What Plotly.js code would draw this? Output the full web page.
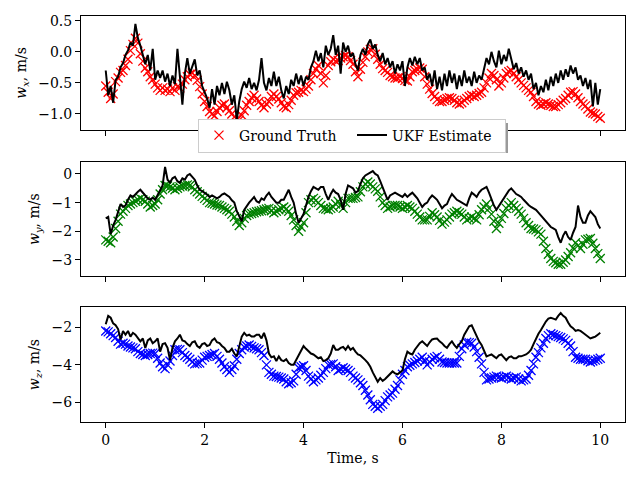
<!DOCTYPE html>
<html>
<head>
<meta charset="utf-8">
<script src="https://cdn.plot.ly/plotly-3.0.1.min.js"></script>
<style>
  body { margin: 0; }
  #grafik { width: 640px; height: 480px; }
</style>
</head>
<body>
<div id="grafik"></div>
<script>
// sample step of the series, s
const dt = 0.05;

// w_x, m/s
const wxTruth = [
  -0.55, -0.65, -0.75, -0.68, -0.48, -0.42, -0.33, -0.30, -0.22, -0.12,
  0.02, 0.12, 0.22, 0.14, -0.03, -0.15, -0.26, -0.32, -0.40, -0.45,
  -0.52, -0.58, -0.62, -0.58, -0.62, -0.60, -0.64, -0.58, -0.62, -0.56,
  -0.58, -0.52, -0.45, -0.40, -0.36, -0.34, -0.38, -0.46, -0.56, -0.68,
  -0.80, -0.88, -0.96, -1.00, -1.03, -0.96, -0.90, -0.86, -0.84, -0.90,
  -0.95, -1.00, -1.05, -1.08, -1.10, -1.02, -0.95, -0.86, -0.80, -0.74,
  -0.70, -0.76, -0.80, -0.86, -0.90, -0.84, -0.80, -0.72, -0.68, -0.72,
  -0.76, -0.82, -0.88, -0.90, -0.85, -0.78, -0.70, -0.66, -0.65, -0.62,
  -0.64, -0.60, -0.55, -0.45, -0.35, -0.28, -0.22, -0.35, -0.50, -0.38,
  -0.22, -0.16, -0.12, -0.15, -0.14, -0.10, -0.08, -0.06, -0.08, -0.14,
  -0.20, -0.32, -0.40, -0.28, -0.17, -0.08, 0.00, 0.04, 0.05, -0.04,
  -0.12, -0.20, -0.27, -0.30, -0.33, -0.38, -0.40, -0.42, -0.42, -0.40,
  -0.43, -0.46, -0.47, -0.40, -0.32, -0.30, -0.28, -0.26, -0.28, -0.40,
  -0.52, -0.60, -0.67, -0.72, -0.77, -0.80, -0.80, -0.78, -0.75, -0.74,
  -0.75, -0.78, -0.82, -0.84, -0.82, -0.78, -0.75, -0.72, -0.70, -0.72,
  -0.70, -0.67, -0.65, -0.58, -0.50, -0.42, -0.35, -0.38, -0.45, -0.55,
  -0.50, -0.42, -0.35, -0.32, -0.30, -0.35, -0.40, -0.45, -0.50, -0.54,
  -0.58, -0.62, -0.65, -0.72, -0.80, -0.84, -0.86, -0.84, -0.82, -0.84,
  -0.86, -0.88, -0.88, -0.85, -0.82, -0.78, -0.75, -0.70, -0.65, -0.64,
  -0.68, -0.74, -0.80, -0.84, -0.87, -0.92, -0.97, -0.99, -1.00, -1.04,
  -1.07
];
const wxUkf = [
  -0.30, -0.70, -0.55, -0.82, -0.45, -0.40, -0.25, -0.18, -0.05, 0.02,
  0.15, 0.10, 0.45, 0.22, 0.10, -0.05, -0.20, -0.05, -0.30, 0.05,
  -0.45, -0.30, -0.42, -0.30, -0.48, -0.35, -0.55, -0.38, -0.52, 0.05,
  -0.42, -0.85, -0.35, -0.10, -0.35, -0.22, -0.12, -0.38, -0.30, -0.55,
  -0.65, -0.75, -0.90, -0.60, -0.85, -0.55, -0.70, -0.50, -0.68, -0.48,
  -0.62, -0.85, -0.70, -1.10, -0.80, -0.60, -0.48, -0.58, -0.42, -0.60,
  -0.50, -0.62, -0.45, -0.10, -0.50, -0.62, -0.42, -0.55, -0.32, -0.55,
  -0.40, -0.62, -0.75, -0.55, -0.68, -0.45, -0.55, -0.35, -0.52, -0.38,
  -0.55, -0.40, -0.45, -0.25, -0.15, 0.02, -0.15, -0.02, -0.25, 0.10,
  -0.05, 0.05, 0.27, -0.05, 0.10, -0.35, 0.15, 0.00, 0.10, -0.08,
  -0.02, -0.20, -0.30, -0.05, 0.05, -0.05, 0.12, 0.20, 0.05, 0.12,
  -0.05, -0.15, -0.02, -0.20, -0.10, -0.25, -0.15, -0.35, -0.20, -0.30,
  -0.15, -0.55, -0.25, -0.10, -0.22, -0.08, -0.20, -0.10, -0.30, -0.25,
  -0.45, -0.35, -0.55, -0.30, -0.60, -0.40, -0.62, -0.35, -0.55, -0.30,
  -0.50, -0.35, -0.60, -0.38, -0.55, -0.30, -0.50, -0.40, -0.55, -0.32,
  -0.50, -0.38, -0.45, -0.25, -0.10, -0.20, 0.00, -0.15, -0.25, 0.02,
  -0.20, -0.05, -0.15, 0.05, -0.12, -0.28, -0.18, -0.35, -0.25, -0.40,
  -0.30, -0.45, -0.35, -0.60, -0.50, -0.70, -0.55, -0.65, -0.45, -0.62,
  -0.40, -0.55, -0.35, -0.50, -0.30, -0.45, -0.28, -0.40, -0.22, -0.35,
  -0.25, -0.45, -0.38, -0.55, -0.42, -0.60, -0.45, -0.88, -0.50, -0.85,
  -0.60
];

// w_y, m/s
const wyTruth = [
  -2.30, -2.35, -2.40, -2.20, -1.90, -1.65, -1.40, -1.30, -1.20, -1.10,
  -1.05, -1.00, -0.95, -0.90, -0.85, -0.90, -0.95, -1.05, -1.15, -1.10,
  -1.05, -0.90, -0.70, -0.55, -0.40, -0.42, -0.45, -0.50, -0.55, -0.50,
  -0.45, -0.42, -0.40, -0.38, -0.40, -0.45, -0.55, -0.62, -0.70, -0.78,
  -0.85, -0.92, -1.00, -1.02, -1.05, -1.08, -1.10, -1.15, -1.20, -1.25,
  -1.30, -1.40, -1.50, -1.65, -1.80, -1.70, -1.55, -1.45, -1.40, -1.38,
  -1.35, -1.32, -1.30, -1.28, -1.25, -1.22, -1.20, -1.28, -1.35, -1.30,
  -1.25, -1.20, -1.15, -1.22, -1.30, -1.45, -1.60, -1.80, -2.00, -1.85,
  -1.70, -1.35, -1.00, -0.90, -0.85, -0.92, -1.00, -1.10, -1.20, -1.22,
  -1.25, -1.20, -1.15, -1.05, -0.95, -1.08, -1.20, -1.00, -0.85, -0.85,
  -0.85, -0.82, -0.80, -0.62, -0.45, -0.35, -0.28, -0.35, -0.45, -0.52,
  -0.60, -0.80, -1.00, -1.10, -1.20, -1.15, -1.10, -1.10, -1.10, -1.15,
  -1.20, -1.15, -1.10, -1.15, -1.20, -1.30, -1.40, -1.50, -1.60, -1.60,
  -1.60, -1.48, -1.35, -1.42, -1.50, -1.62, -1.75, -1.68, -1.60, -1.50,
  -1.40, -1.35, -1.30, -1.35, -1.40, -1.50, -1.60, -1.55, -1.50, -1.55,
  -1.60, -1.42, -1.25, -1.15, -1.05, -1.20, -1.40, -1.65, -1.90, -1.72,
  -1.55, -1.38, -1.20, -1.10, -1.00, -1.10, -1.20, -1.30, -1.40, -1.55,
  -1.70, -1.80, -1.90, -1.92, -1.95, -2.02, -2.10, -2.35, -2.60, -2.80,
  -2.95, -3.05, -3.10, -3.15, -3.15, -3.08, -3.00, -2.88, -2.75, -2.58,
  -2.40, -2.50, -2.60, -2.45, -2.30, -2.28, -2.25, -2.42, -2.60, -2.78,
  -2.95
];
const wyUkf = [
  -1.55, -1.50, -2.10, -1.80, -1.60, -1.30, -1.05, -1.15, -1.10, -0.90,
  -0.75, -0.80, -0.70, -0.62, -0.55, -0.65, -0.75, -0.85, -0.90, -0.82,
  -0.90, -0.75, -0.60, -0.40, 0.25, -0.20, -0.30, -0.15, -0.10, -0.25,
  -0.30, -0.15, -0.20, -0.05, 0.00, -0.12, -0.20, -0.40, -0.55, -0.60,
  -0.65, -0.72, -0.80, -0.75, -0.80, -0.85, -0.80, -0.72, -0.68, -0.75,
  -0.80, -0.92, -1.00, -1.30, -1.50, -1.65, -1.25, -1.10, -1.00, -0.90,
  -0.80, -0.95, -1.00, -0.85, -0.90, -0.75, -0.65, -0.80, -0.90, -1.00,
  -1.00, -0.90, -0.90, -0.70, -0.55, -0.80, -1.00, -1.40, -1.70, -1.55,
  -1.40, -1.10, -0.80, -0.60, -0.45, -0.50, -0.55, -0.45, -0.45, -0.70,
  -0.90, -0.70, -0.55, -0.65, -0.70, -0.90, -1.25, -0.70, -0.40, -0.45,
  -0.50, -0.65, -0.60, -0.35, -0.15, -0.05, 0.00, 0.05, 0.10, 0.00,
  -0.05, -0.25, -0.45, -0.70, -0.90, -0.75, -0.70, -0.65, -0.70, -0.75,
  -0.80, -0.70, -0.80, -0.72, -0.65, -0.75, -0.85, -1.00, -1.15, -1.05,
  -1.00, -0.85, -0.75, -0.82, -0.90, -1.05, -1.20, -1.10, -1.05, -0.85,
  -0.70, -0.80, -0.90, -0.95, -1.00, -1.05, -1.10, -0.85, -0.65, -0.72,
  -0.80, -0.65, -0.55, -0.50, -0.45, -0.65, -0.90, -1.10, -1.25, -1.12,
  -1.00, -0.85, -0.70, -0.58, -0.50, -0.60, -0.70, -0.75, -0.80, -0.90,
  -1.00, -1.08, -1.15, -1.20, -1.25, -1.35, -1.45, -1.55, -1.65, -1.75,
  -1.85, -1.90, -1.95, -2.20, -2.40, -2.15, -2.00, -2.20, -2.30, -2.05,
  -1.85, -1.10, -1.50, -1.70, -1.70, -1.45, -1.30, -1.40, -1.50, -1.75,
  -1.90
];

// w_z, m/s
const wzTruth = [
  -2.20, -2.25, -2.35, -2.45, -2.55, -2.75, -2.90, -2.85, -2.90, -3.00,
  -3.05, -3.10, -3.15, -3.30, -3.40, -3.45, -3.50, -3.45, -3.40, -3.38,
  -3.40, -3.65, -3.90, -4.10, -4.20, -4.00, -3.80, -3.50, -3.20, -3.18,
  -3.20, -3.35, -3.50, -3.60, -3.70, -3.85, -3.95, -3.92, -3.90, -3.75,
  -3.60, -3.55, -3.50, -3.45, -3.40, -3.55, -3.70, -3.90, -4.10, -4.25,
  -4.40, -4.25, -4.05, -3.70, -3.40, -3.20, -3.05, -3.00, -2.95, -3.02,
  -3.10, -3.15, -3.20, -3.35, -3.50, -4.00, -4.40, -4.50, -4.60, -4.62,
  -4.65, -4.70, -4.75, -4.90, -5.00, -4.95, -4.85, -4.50, -4.15, -4.10,
  -4.05, -4.30, -4.60, -4.75, -4.90, -4.80, -4.70, -4.55, -4.40, -4.20,
  -4.00, -3.98, -3.95, -4.10, -4.30, -4.22, -4.15, -4.22, -4.30, -4.40,
  -4.60, -4.70, -4.80, -4.95, -5.10, -5.35, -5.60, -5.85, -6.10, -6.20,
  -6.30, -6.20, -6.10, -5.90, -5.70, -5.60, -5.50, -5.30, -5.10, -4.80,
  -4.50, -4.30, -4.10, -4.02, -3.95, -3.88, -3.80, -3.70, -3.60, -3.80,
  -4.00, -3.85, -3.70, -3.62, -3.55, -3.70, -3.85, -3.88, -3.90, -3.90,
  -3.90, -3.90, -3.90, -3.55, -3.15, -2.95, -2.80, -2.82, -2.85, -3.05,
  -3.30, -3.60, -3.95, -4.40, -4.80, -4.75, -4.70, -4.65, -4.60, -4.65,
  -4.70, -4.65, -4.60, -4.68, -4.75, -4.70, -4.65, -4.75, -4.85, -4.80,
  -4.75, -4.55, -4.30, -3.95, -3.60, -3.35, -3.10, -2.85, -2.60, -2.45,
  -2.35, -2.40, -2.45, -2.50, -2.55, -2.62, -2.70, -2.85, -3.00, -3.30,
  -3.60, -3.65, -3.70, -3.70, -3.70, -3.78, -3.85, -3.80, -3.75, -3.70,
  -3.65
];
const wzUkf = [
  -1.85, -1.40, -1.50, -1.80, -1.90, -2.10, -2.65, -2.20, -2.40, -2.20,
  -2.50, -2.30, -2.40, -2.60, -2.75, -2.60, -3.10, -2.70, -2.60, -2.85,
  -2.75, -2.60, -3.30, -2.90, -2.85, -3.10, -3.75, -3.10, -2.75, -2.60,
  -2.40, -2.70, -2.75, -2.90, -3.00, -2.80, -2.75, -3.00, -3.10, -2.90,
  -2.85, -3.00, -2.95, -2.70, -2.60, -2.80, -2.85, -3.00, -3.10, -3.30,
  -3.30, -3.15, -3.40, -3.55, -2.95, -2.50, -2.30, -2.45, -2.40, -2.50,
  -2.50, -2.40, -2.40, -2.60, -2.30, -2.70, -3.40, -3.60, -3.55, -3.80,
  -3.55, -3.75, -3.80, -3.70, -3.90, -4.00, -4.00, -3.75, -3.50, -3.20,
  -3.00, -3.15, -3.30, -3.40, -3.45, -3.55, -3.65, -3.60, -3.80, -3.75,
  -3.65, -3.40, -2.95, -3.20, -3.20, -3.10, -3.05, -3.20, -3.00, -3.20,
  -3.10, -3.30, -3.45, -3.50, -3.60, -3.75, -3.90, -4.10, -4.40, -4.65,
  -4.90, -4.70, -4.85, -4.75, -4.60, -4.45, -4.35, -4.45, -4.50, -4.40,
  -4.30, -3.70, -3.30, -3.40, -3.45, -3.20, -3.00, -2.85, -2.75, -2.90,
  -3.00, -2.80, -2.65, -2.62, -2.60, -2.75, -2.85, -3.00, -3.10, -2.90,
  -2.75, -2.95, -3.10, -2.90, -2.75, -2.40, -2.15, -1.95, -1.90, -2.20,
  -2.50, -2.75, -2.95, -3.30, -3.55, -3.50, -3.45, -3.55, -3.65, -3.50,
  -3.45, -3.60, -3.75, -3.60, -3.55, -3.65, -3.65, -3.55, -3.55, -3.50,
  -3.45, -3.35, -3.20, -2.90, -2.60, -2.35, -2.15, -1.90, -1.70, -1.55,
  -1.50, -1.55, -1.60, -1.40, -1.25, -1.40, -1.50, -1.75, -1.95, -2.05,
  -2.20, -2.15, -2.20, -2.30, -2.40, -2.50, -2.60, -2.55, -2.50, -2.40,
  -2.30
];

const time = wxTruth.map((_, i) => +(i * dt).toFixed(2));

const truthColors = ["#ff0000", "#008000", "#0000ff"];
const truthSeries = [wxTruth, wyTruth, wzTruth];
const ukfSeries = [wxUkf, wyUkf, wzUkf];
const yTitles = [
  "<i>w</i><sub><i>x</i></sub>, m/s",
  "<i>w</i><sub><i>y</i></sub>, m/s",
  "<i>w</i><sub><i>z</i></sub>, m/s"
];

const fontFam = "DejaVu Serif, serif";

// traces: truth as x markers, estimate as black line
const data = [];
for (let k = 0; k < 3; k++) {
  const sfx = k === 0 ? "" : String(k + 1);
  data.push({
    x: time,
    y: truthSeries[k],
    xaxis: "x" + sfx,
    yaxis: "y" + sfx,
    type: "scatter",
    mode: "markers",
    name: "Ground Truth",
    showlegend: k === 0,
    marker: {
      symbol: "x-thin-open",
      size: 9,
      color: truthColors[k],
      line: { color: truthColors[k], width: 1.3 }
    }
  });
  data.push({
    x: time,
    y: ukfSeries[k],
    xaxis: "x" + sfx,
    yaxis: "y" + sfx,
    type: "scatter",
    mode: "lines",
    name: "UKF Estimate",
    showlegend: k === 0,
    line: { color: "black", width: 2 }
  });
}

const xDom = [81 / 640, 625 / 640];
const yDoms = [[0.729, 0.967], [0.425, 0.662], [0.121, 0.36]];
const yRanges = [[-1.26, 0.58], [-3.56, 0.41], [-7.03, -0.94]];
const yDticks = [0.5, 1, 2];
const yFormats = [".1f", "d", "d"];

function xAx(anchor, labels) {
  return {
    domain: xDom,
    anchor: anchor,
    range: [-0.5, 10.5],
    tickvals: [0, 2, 4, 6, 8, 10],
    showticklabels: labels,
    ticks: "outside",
    ticklen: 5,
    tickwidth: 1,
    tickcolor: "black",
    showline: true,
    mirror: true,
    linecolor: "black",
    linewidth: 1,
    showgrid: false,
    zeroline: false,
    tickfont: { family: fontFam, size: 14, color: "black" }
  };
}
function yAx(k) {
  return {
    domain: yDoms[k],
    anchor: k === 0 ? "x" : "x" + (k + 1),
    range: yRanges[k],
    dtick: yDticks[k],
    tickformat: yFormats[k],
    ticks: "outside",
    ticklen: 5,
    tickwidth: 1,
    tickcolor: "black",
    showline: true,
    mirror: true,
    linecolor: "black",
    linewidth: 1,
    showgrid: false,
    zeroline: false,
    tickfont: { family: fontFam, size: 14, color: "black" },
    title: { text: yTitles[k], font: { family: fontFam, size: 14, color: "black" }, standoff: 8 }
  };
}

const layout = {
  width: 640,
  height: 480,
  margin: { l: 0, r: 0, t: 0, b: 0 },
  paper_bgcolor: "white",
  plot_bgcolor: "white",
  font: { family: fontFam, size: 14, color: "black" },
  xaxis: xAx("y", false),
  xaxis2: xAx("y2", false),
  xaxis3: Object.assign(xAx("y3", true), {
    title: { text: "Time, s", font: { family: fontFam, size: 14, color: "black" }, standoff: 6 }
  }),
  yaxis: yAx(0),
  yaxis2: yAx(1),
  yaxis3: yAx(2),
  legend: {
    orientation: "h",
    x: 198 / 640,
    xanchor: "left",
    y: 1 - 135.5 / 480,
    yanchor: "middle",
    bgcolor: "white",
    bordercolor: "#cccccc",
    borderwidth: 1,
    font: { family: fontFam, size: 14, color: "black" },
    itemwidth: 30,
    entrywidth: 108,
    entrywidthmode: "pixels"
  },
  // legend drop shadow
  shapes: [{
    type: "rect",
    xref: "paper",
    yref: "paper",
    x0: 201 / 640,
    x1: 508 / 640,
    y0: 1 - 153 / 480,
    y1: 1 - 123 / 480,
    fillcolor: "#9a9a9a",
    line: { width: 0 },
    layer: "above"
  }]
};

Plotly.newPlot("grafik", data, layout, { staticPlot: true });
</script>
</body>
</html>
